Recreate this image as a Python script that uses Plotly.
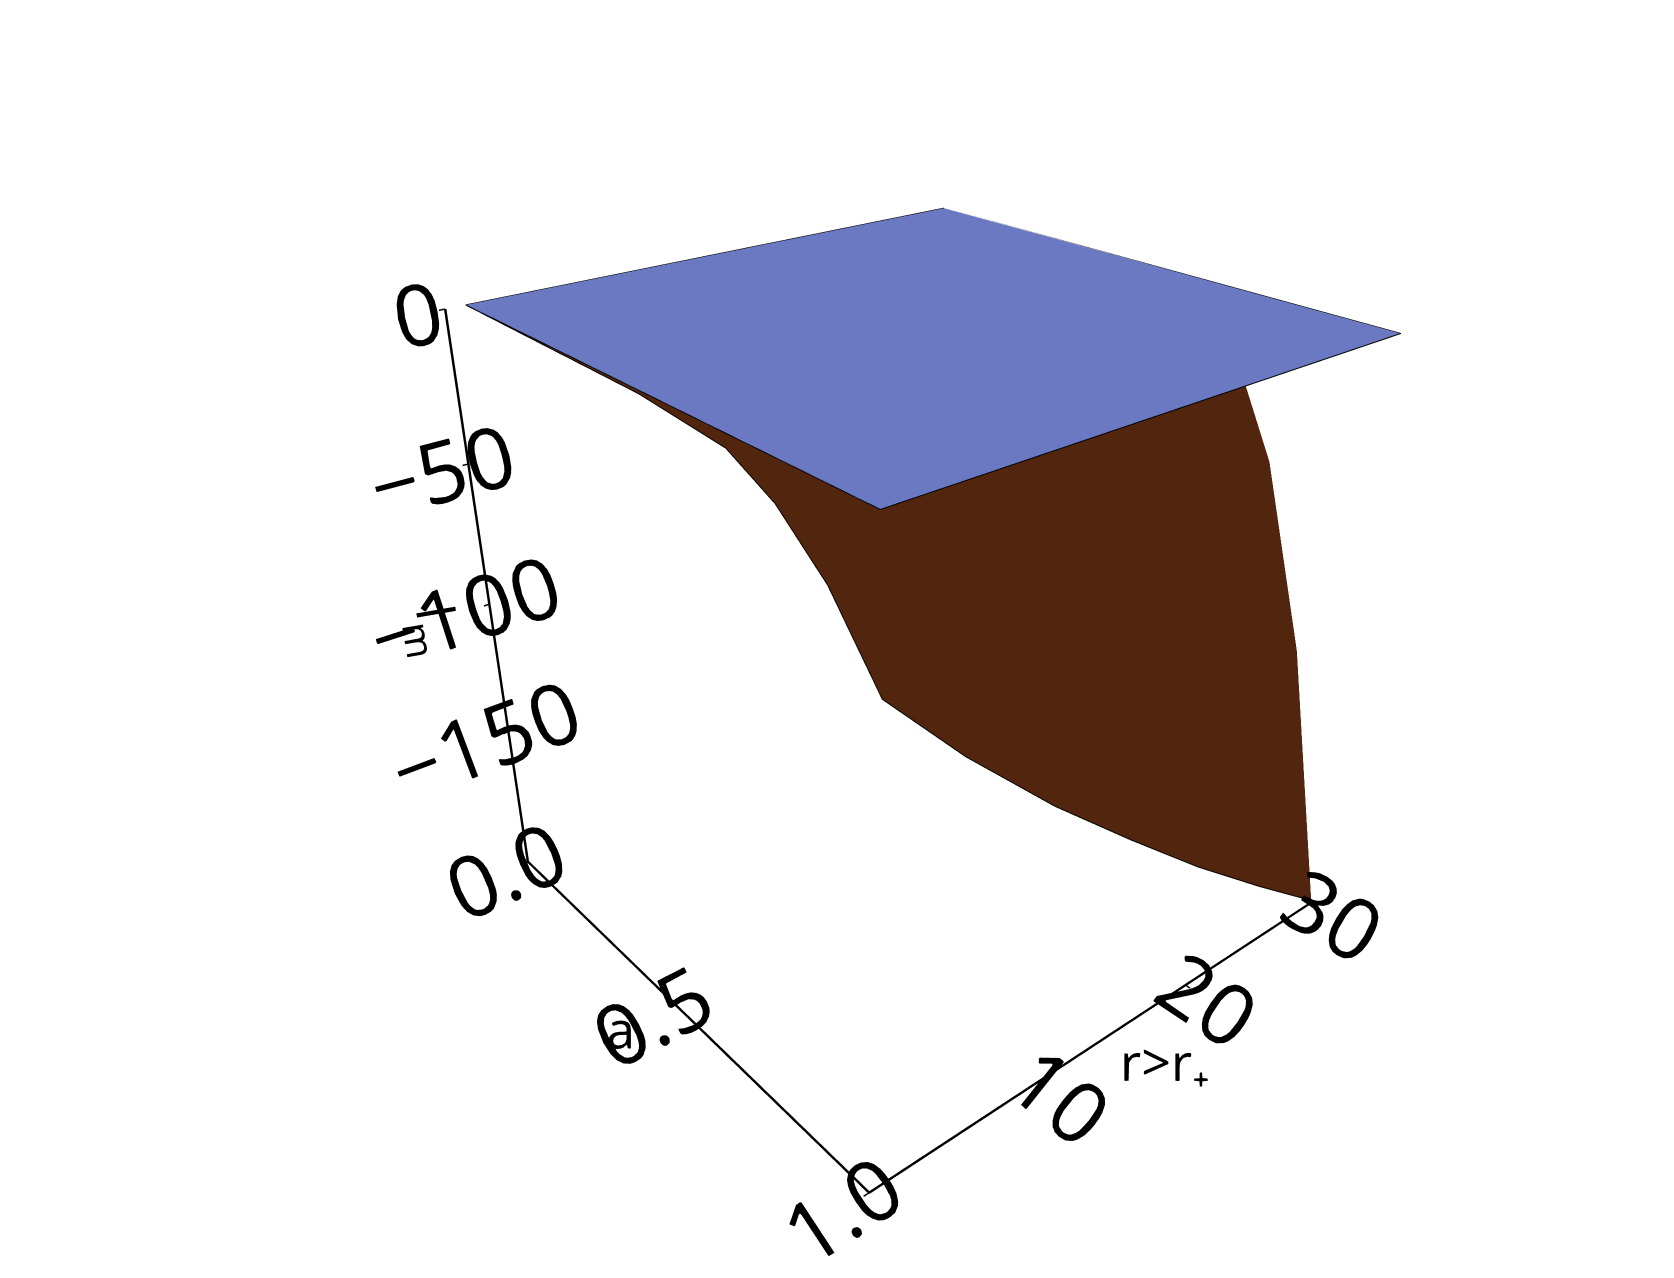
import plotly.graph_objects as go

r_vals = [1, 5, 10, 15, 20, 25, 30]
a_vals = [0.0, 0.5, 0.7, 0.8, 0.9, 1.0]
# rows: r, columns: a
lm_brown = [
    [0, -1, -4, -12, -26, -48],
    [0, -1, -6, -19, -41, -75],
    [0, -2, -9, -27, -58, -105],
    [0, -2, -11, -34, -73, -132],
    [0, -3, -13, -40, -87, -158],
    [0, -3, -15, -46, -100, -182],
    [0, -4, -17, -52, -113, -205],
]
lm_blue = [[0] * len(a_vals) for _ in r_vals]

fig = go.Figure()
fig.add_trace(go.Surface(x=a_vals, y=r_vals, z=lm_brown,
                         colorscale=[[0, "#52250f"], [1, "#52250f"]], showscale=False,
                         lighting=dict(ambient=1, diffuse=0, specular=0)))
fig.add_trace(go.Surface(x=a_vals, y=r_vals, z=lm_blue,
                         colorscale=[[0, "#6a79c1"], [1, "#6a79c1"]], showscale=False,
                         lighting=dict(ambient=1, diffuse=0, specular=0)))
a0, a1, r0, r1 = a_vals[0], a_vals[-1], r_vals[0], r_vals[-1]
fig.add_trace(go.Scatter3d(x=[a0, a1, a1, a0, a0], y=[r0, r0, r1, r1, r0], z=[0, 0, 0, 0, 0],
                           mode="lines", line=dict(color="black", width=2), showlegend=False, hoverinfo="skip"))
fig.add_trace(go.Scatter3d(x=[a1] * len(r_vals), y=r_vals, z=[row[-1] for row in lm_brown],
                           mode="lines", line=dict(color="black", width=2), showlegend=False, hoverinfo="skip"))
fig.add_trace(go.Scatter3d(x=a_vals, y=[r0] * len(a_vals), z=lm_brown[0],
                           mode="lines", line=dict(color="black", width=2), showlegend=False, hoverinfo="skip"))

tf = dict(size=32, family="Open Sans", color="black")
ttf = dict(size=52, family="Open Sans", color="black")
ax = dict(showbackground=False, showgrid=False, zeroline=False, showline=True,
          linecolor="black", linewidth=5, ticks="outside", tickcolor="black", tickwidth=3, tickfont=tf)
fig.update_layout(
    width=1674, height=1278, paper_bgcolor="white", margin=dict(l=0, r=0, t=0, b=0),
    showlegend=False,
    scene=dict(
        domain=dict(x=[0.08, 1], y=[0, 1]),
        yaxis=dict(ax, range=[0, 30], tickvals=[10, 20, 30], title=dict(text="r>r₊", font=ttf)),
        xaxis=dict(ax, range=[0, 1], tickvals=[0, 0.5, 1], ticktext=["0.0", "0.5", "1.0"], title=dict(text="a", font=ttf)),
        zaxis=dict(ax, range=[-206, 0], tickvals=[0, -50, -100, -150], ticktext=["0", "−50", "−100", "−150"], title=dict(text="l<sub>m</sub>", font=ttf)),
        aspectmode="manual", aspectratio=dict(x=1.5, y=1.5, z=1.55),
        camera=dict(eye=dict(x=2.55, y=-2.15, z=1.8), center=dict(x=0, y=0, z=-0.05),
                    projection=dict(type="perspective")),
    ),
)
fig.write_html("out.html")
